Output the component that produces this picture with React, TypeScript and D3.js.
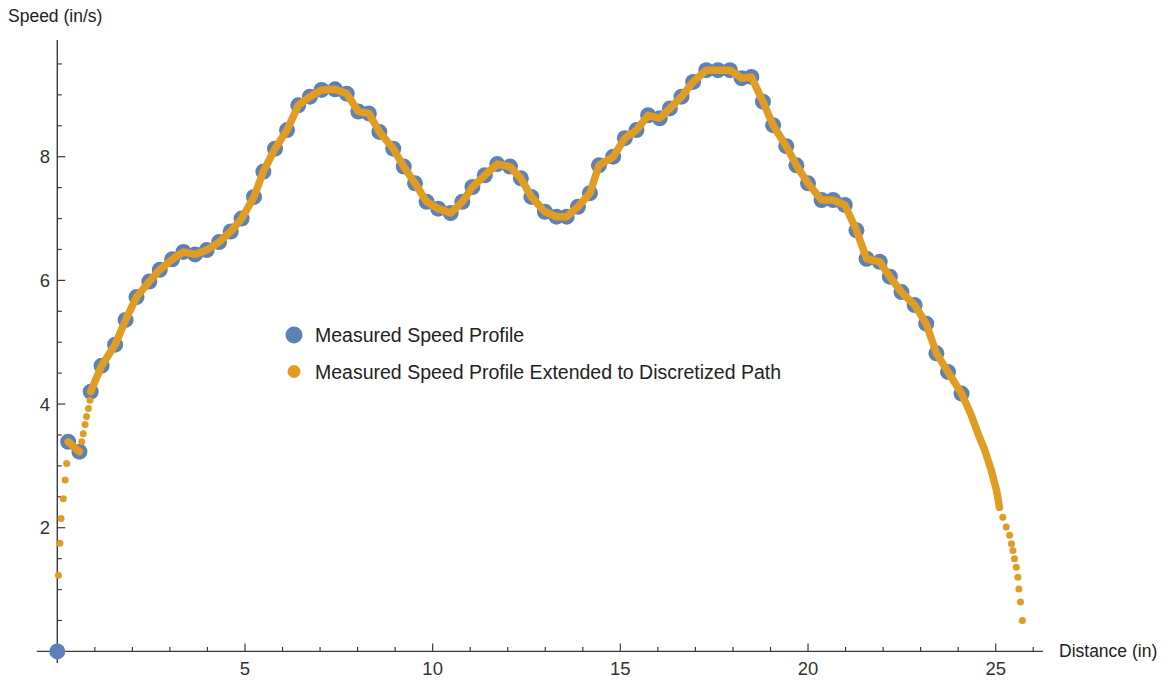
import React from 'react';
import * as d3 from 'd3';

// measured speed profile (distance in, speed in/s)
const measuredDist = [
  0, 0.29, 0.59, 0.89, 1.18, 1.54, 1.82, 2.11, 2.45, 2.73, 3.06, 3.36, 3.67, 3.98, 4.31, 4.62, 4.91,
  5.24, 5.49, 5.80, 6.12, 6.42, 6.73, 7.04, 7.40, 7.71, 8.02, 8.30, 8.58, 8.95, 9.23, 9.53, 9.84,
  10.15, 10.48, 10.79, 11.06, 11.39, 11.72, 12.06, 12.35, 12.63, 12.99, 13.30, 13.57, 13.87, 14.19,
  14.43, 14.81, 15.12, 15.43, 15.74, 16.05, 16.32, 16.63, 16.94, 17.29, 17.60, 17.92, 18.23, 18.49,
  18.80, 19.07, 19.42, 19.69, 20.00, 20.36, 20.67, 20.98, 21.29, 21.56, 21.91, 22.18, 22.49, 22.84,
  23.15, 23.42, 23.73, 24.09,
];
const measuredSpeed = [
  0, 3.39, 3.23, 4.20, 4.62, 4.96, 5.36, 5.73, 5.98, 6.17, 6.34, 6.46, 6.42, 6.49, 6.62, 6.79, 7.00,
  7.35, 7.76, 8.13, 8.43, 8.83, 8.97, 9.08, 9.09, 9.02, 8.73, 8.70, 8.40, 8.13, 7.84, 7.57, 7.27,
  7.16, 7.09, 7.27, 7.51, 7.70, 7.88, 7.84, 7.65, 7.35, 7.11, 7.03, 7.03, 7.19, 7.41,
  7.86, 8.00, 8.30, 8.43, 8.67, 8.62, 8.78, 8.97, 9.21, 9.40, 9.40, 9.40, 9.27, 9.29,
  8.89, 8.51, 8.17, 7.86, 7.57, 7.30, 7.30, 7.22, 6.81, 6.35, 6.30, 6.06, 5.81, 5.60,
  5.30, 4.82, 4.52, 4.17,
];

// extended profile: loose dots where it leaves the measured points
const leadDist = [0.03, 0.07, 0.10, 0.16, 0.21, 0.25];
const leadSpeed = [1.23, 1.75, 2.15, 2.47, 2.77, 3.04];
const gapDist = [0.65, 0.69, 0.74, 0.78, 0.83, 0.87];
const gapSpeed = [3.39, 3.52, 3.67, 3.80, 3.93, 4.06];
const tailDenseDist = [24.33, 24.53, 24.71, 24.88, 25.02, 25.10];
const tailDenseSpeed = [3.85, 3.52, 3.25, 2.93, 2.61, 2.33];
const tailDist = [25.19, 25.28, 25.37, 25.42, 25.46, 25.50, 25.55, 25.59, 25.62, 25.66, 25.71];
const tailSpeed = [2.17, 2.01, 1.88, 1.74, 1.63, 1.50, 1.36, 1.20, 1.01, 0.80, 0.50];

const xMajor = [5, 10, 15, 20, 25];
const xMinor = d3.range(1, 27).filter((v) => v % 5 !== 0);
const yMajor = [2, 4, 6, 8];
const yMinor = d3.range(0.5, 10, 0.5).filter((v) => v % 2 !== 0);

const legendLabels = ['Measured Speed Profile', 'Measured Speed Profile Extended to Discretized Path'];

const BLUE = '#5E81B5';
const ORANGE = '#E19C24';
const AXIS = '#3a3a3a';
const FONT = '"Liberation Sans", Arial, sans-serif';

type Pt = [number, number];
const zip = (a: number[], b: number[]): Pt[] => a.map((v, i) => [v, b[i]]);

const App = () => {
  const x = d3.scaleLinear().domain([0, 25]).range([57.3, 995.7]);
  const y = d3.scaleLinear().domain([0, 8]).range([651.4, 156.7]);

  const measured = zip(measuredDist, measuredSpeed);
  const line = d3.line<Pt>().x((d) => x(d[0])).y((d) => y(d[1]));

  const denseA = measured.slice(1, 3);
  const denseB = [...measured.slice(3), ...zip(tailDenseDist, tailDenseSpeed)];
  const looseDots = [
    ...zip(leadDist, leadSpeed),
    ...zip(gapDist, gapSpeed),
    ...zip(tailDist, tailSpeed),
  ];

  const x0 = x(0);
  const y0 = y(0);

  return (
    <svg
      width={1171}
      height={681}
      style={{ position: 'absolute', left: 0, top: 0, background: '#fff' }}
      fontFamily={FONT}
    >
      {/* axes */}
      <line x1={36.7} x2={1043} y1={y0} y2={y0} stroke={AXIS} strokeWidth={1.4} />
      <line x1={x0} x2={x0} y1={40} y2={663} stroke={AXIS} strokeWidth={1.4} />
      {xMinor.map((t) => (
        <line key={'xm' + t} x1={x(t)} x2={x(t)} y1={y0} y2={y0 - 4.5} stroke={AXIS} strokeWidth={1.2} />
      ))}
      {xMajor.map((t) => (
        <g key={'xM' + t}>
          <line x1={x(t)} x2={x(t)} y1={y0} y2={y0 - 8} stroke={AXIS} strokeWidth={1.2} />
          <text x={x(t)} y={675} textAnchor="middle" fontSize={18.5} fill="#333">
            {t}
          </text>
        </g>
      ))}
      {yMinor.map((t) => (
        <line key={'ym' + t} x1={x0} x2={x0 + 4.5} y1={y(t)} y2={y(t)} stroke={AXIS} strokeWidth={1.2} />
      ))}
      {yMajor.map((t) => (
        <g key={'yM' + t}>
          <line x1={x0} x2={x0 + 8} y1={y(t)} y2={y(t)} stroke={AXIS} strokeWidth={1.2} />
          <text x={50} y={y(t) + 6.5} textAnchor="end" fontSize={18.5} fill="#333">
            {t}
          </text>
        </g>
      ))}
      <text x={8} y={22} fontSize={17.5} fill="#222">Speed (in/s)</text>
      <text x={1059} y={657} fontSize={17.5} fill="#222">Distance (in)</text>

      {/* measured points */}
      {measured.map((d, i) => (
        <circle key={'b' + i} cx={x(d[0])} cy={y(d[1])} r={8} fill={BLUE} />
      ))}

      {/* extended profile */}
      {[denseA, denseB].map((seg, i) => (
        <path
          key={'o' + i}
          d={line(seg) || ''}
          fill="none"
          stroke={ORANGE}
          strokeWidth={7.5}
          strokeLinejoin="round"
          strokeLinecap="round"
        />
      ))}
      {looseDots.map((d, i) => (
        <circle key={'od' + i} cx={x(d[0])} cy={y(d[1])} r={3.5} fill={ORANGE} />
      ))}

      {/* legend */}
      <circle cx={294} cy={335} r={8.5} fill={BLUE} />
      <circle cx={294} cy={371.5} r={6.5} fill={ORANGE} />
      <text x={315} y={342} fontSize={19.5} fill="#222">{legendLabels[0]}</text>
      <text x={315} y={378.5} fontSize={19.5} fill="#222">{legendLabels[1]}</text>
    </svg>
  );
};

export default App;
